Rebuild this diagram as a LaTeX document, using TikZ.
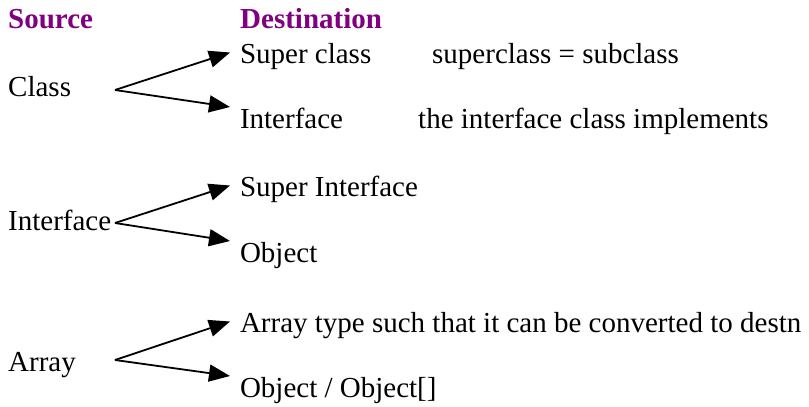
\documentclass[tikz,border=0pt]{standalone}
\usepackage{fontspec}
\setmainfont{Liberation Serif}
\usetikzlibrary{arrows.meta}
\definecolor{hdrpurple}{RGB}{128,0,128}
\tikzset{
    lbl/.style={anchor=base west,inner sep=0pt,font=\fontsize{29}{32}\selectfont},
    hdr/.style={lbl,text=hdrpurple,font=\fontsize{29}{32}\selectfont\bfseries},
    dst/.style={lbl,outer xsep=10pt,outer ysep=0pt,text height=21pt,text depth=0pt},
    conv/.style={line width=1.8pt,-{Triangle[length=21pt,width=17pt]}}
}
\begin{document}
\begin{tikzpicture}[x=1pt,y=-1pt]
    \useasboundingbox (0,0) rectangle (809,407);

    % headings
    \node[hdr] (srchead) at (8,28) {Source};
    \node[hdr] (dsthead) at (240,28) {Destination};

    % class
    \node[lbl] (srcclass) at (8,96) {Class};
    \node[dst] (dstsuper) at (230,63) {Super class};
    \node[lbl] at (432,63) {superclass = subclass};
    \node[dst] (dstiface) at (230,128) {Interface};
    \node[lbl] at (418,128) {the interface class implements};
    \coordinate (forkclass) at (115,90);
    \draw[conv] (forkclass) -- (dstsuper.west);
    \draw[conv] (forkclass) -- (dstiface.north west);

    % interface
    \node[lbl] (srciface) at (8,230) {Interface};
    \node[dst] (dstsuperiface) at (230,196) {Super Interface};
    \node[dst] (dstobj) at (230,262) {Object};
    \coordinate (forkiface) at (115,223);
    \draw[conv] (forkiface) -- (dstsuperiface.west);
    \draw[conv] (forkiface) -- (dstobj.north west);

    % array
    \node[lbl] (srcarray) at (8,371) {Array};
    \node[dst] (dstarray) at (230,332) {Array type such that it can be converted to destn};
    \node[dst] (dstobjarr) at (230,397) {Object / Object[]};
    \coordinate (forkarray) at (115,360);
    \draw[conv] (forkarray) -- (dstarray.west);
    \draw[conv] (forkarray) -- (dstobjarr.north west);
\end{tikzpicture}
\end{document}
